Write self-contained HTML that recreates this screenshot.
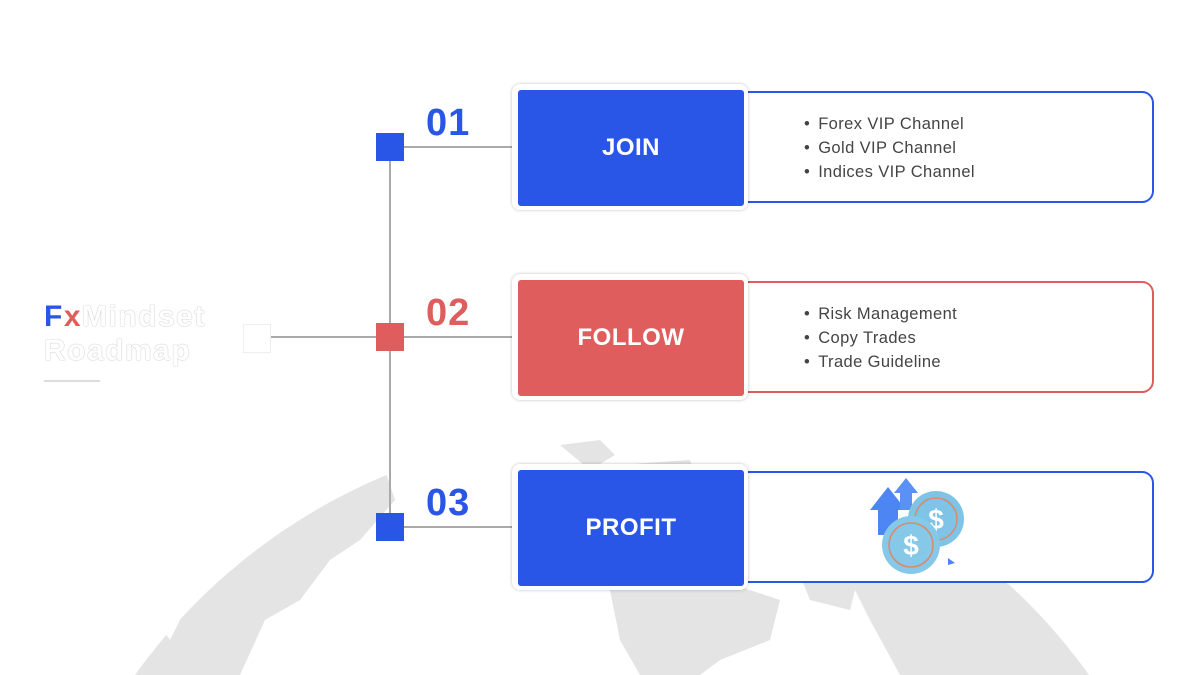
<!DOCTYPE html>
<html><head><style>
body{margin:0;width:1200px;height:675px;position:relative;overflow:hidden;background:#fff;font-family:"Liberation Sans",sans-serif}
.a{position:absolute}
.sq{position:absolute;width:28px;height:28px}
.card{position:absolute;left:512px;width:236px;height:126px;border-radius:8px;background:#fff;box-shadow:0 0 3px rgba(0,0,0,.25)}
.card div{position:absolute;left:6px;top:6px;width:226px;height:116px;border-radius:3px;color:#fff;font-weight:bold;font-size:24px;display:flex;align-items:center;justify-content:center;letter-spacing:.5px}
.pan{position:absolute;left:744px;width:408px;height:108px;border:2px solid;border-left:none;border-radius:0 12px 12px 0;background:#fff}
.pan ul{margin:0;padding:0;list-style:none;position:absolute;left:60px;top:19px;font-size:16.5px;color:#444;line-height:24px;letter-spacing:.4px}
.pan li:before{content:"•";margin-right:8px}
.num{position:absolute;left:426px;font-size:38px;font-weight:bold;letter-spacing:1px}
</style></head><body>
<svg class="a" style="left:0;top:0" width="1200" height="675">
<defs><clipPath id="g"><circle cx="612" cy="1017" r="587"/></clipPath></defs>
<g clip-path="url(#g)" fill="#e4e4e4">
<path d="M100 420 L300 425 L330 440 L310 470 L385 470 L395 500 L360 540 L330 560 L300 600 L265 620 L240 675 L100 675 Z"/>
<path d="M195 520 L230 505 L215 560 L185 575 Z" fill="#fff"/>
<path d="M150 610 L190 600 L170 640 Z" fill="#fff"/>
<path d="M560 445 L600 440 L615 455 L590 470 Z"/>
<path d="M620 465 L690 460 L700 490 L660 495 L635 485Z"/>
<path d="M610 590 L720 580 L780 600 L770 640 L720 660 L700 675 L640 675 L620 640 Z"/>
<path d="M840 560 L930 545 L1000 580 L1080 620 L1110 675 L900 675 L870 620 Z"/>
<path d="M800 575 L860 570 L850 610 L810 600Z"/>
</g>
<line x1="390" y1="147" x2="390" y2="527" stroke="#aaa" stroke-width="2"/>
<line x1="270" y1="337" x2="376" y2="337" stroke="#aaa" stroke-width="2"/>
<line x1="404" y1="147" x2="512" y2="147" stroke="#aaa" stroke-width="2"/>
<line x1="404" y1="337" x2="512" y2="337" stroke="#aaa" stroke-width="2"/>
<line x1="404" y1="527" x2="512" y2="527" stroke="#aaa" stroke-width="2"/>
</svg>
<div class="a" style="left:243px;top:324px;width:26px;height:27px;background:#fff;border:1px solid #eee"></div>
<div class="sq" style="left:376px;top:133px;background:#2a56e8"></div>
<div class="sq" style="left:376px;top:323px;background:#df5d5d"></div>
<div class="sq" style="left:376px;top:513px;background:#2a56e8"></div>
<div class="a" style="left:44px;top:300px;font-size:30px;font-weight:900;line-height:34px;letter-spacing:1.5px;color:#fff;text-shadow:0 0 1px #888"><span style="color:#2a56e8;text-shadow:none">F</span><span style="color:#df5d5d;text-shadow:none">x</span>Mindset<br>Roadmap</div>
<div class="a" style="left:44px;top:380px;width:56px;height:2px;background:#ddd"></div>
<div class="num" style="top:102px;color:#2a56e8">01</div>
<div class="num" style="top:292px;color:#df5d5d">02</div>
<div class="num" style="top:482px;color:#2a56e8">03</div>
<div class="pan" style="top:91px;border-color:#2a56e8"><ul><li>Forex VIP Channel</li><li>Gold VIP Channel</li><li>Indices VIP Channel</li></ul></div>
<div class="pan" style="top:281px;border-color:#df5d5d"><ul><li>Risk Management</li><li>Copy Trades</li><li>Trade Guideline</li></ul></div>
<div class="pan" style="top:471px;border-color:#2a56e8"></div>
<div class="card" style="top:84px"><div style="background:#2a56e8">JOIN</div></div>
<div class="card" style="top:274px"><div style="background:#df5d5d">FOLLOW</div></div>
<div class="card" style="top:464px"><div style="background:#2a56e8">PROFIT</div></div>
<svg class="a" style="left:860px;top:475px" width="120" height="105">
<path d="M10 35 L28 12 L46 35 L38 35 L38 60 L18 60 L18 35Z" fill="#4d86f2"/>
<path d="M34 18 L46 3 L58 18 L52 18 L52 35 L40 35 L40 18Z" fill="#5b90f4"/>
<circle cx="76" cy="44" r="28" fill="#7fc4e6"/><circle cx="76" cy="44" r="21" fill="none" stroke="#d98a6a" stroke-width="1.5"/>
<text x="76" y="54" font-size="28" font-weight="bold" fill="#fff" text-anchor="middle" font-family="Liberation Sans">$</text>
<circle cx="51" cy="70" r="29" fill="#86c8e8"/><circle cx="51" cy="70" r="22" fill="none" stroke="#d98a6a" stroke-width="1.5"/>
<text x="51" y="80" font-size="28" font-weight="bold" fill="#fff" text-anchor="middle" font-family="Liberation Sans">$</text>
<path d="M88 83 L95 88 L88 90Z" fill="#4d86f2"/>
</svg>
</body></html>
